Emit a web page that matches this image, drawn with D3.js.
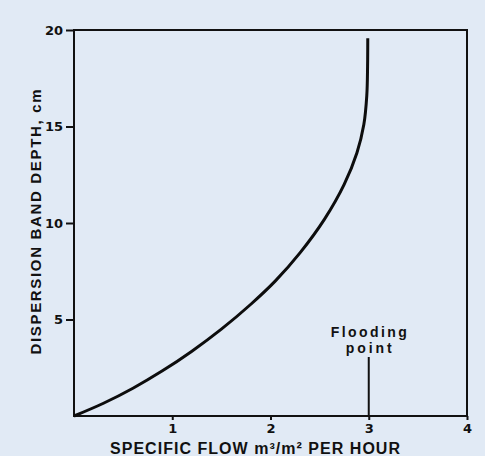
<!DOCTYPE html>
<html>
<head>
<meta charset="utf-8">
<script src="https://cdn.jsdelivr.net/npm/d3@7"></script>
<style>
  html, body { margin: 0; padding: 0; background: #e1eaf5; }
  svg { display: block; }
</style>
</head>
<body>
<div id="chart"></div>
<script>
// specific flow (m3/m2 per hour) vs dispersion band depth (cm)
const flowValues = [0, 0.3, 0.6, 0.9, 1.2, 1.5, 1.8, 2.05, 2.3, 2.55, 2.75, 2.88, 2.95, 2.98, 2.988, 2.99];
const depthValues = [0, 0.66, 1.44, 2.34, 3.36, 4.50, 5.79, 7.0, 8.45, 10.2, 12.0, 13.64, 15.1, 16.6, 18.1, 19.57];
const xTicks = [1, 2, 3, 4];
const yTicks = [5, 10, 15, 20];
const floodFlow = 3;

const width = 485, height = 456;
const margin = { top: 30, right: 18, bottom: 40, left: 74 };
const font = '"Liberation Sans", Arial, sans-serif';
const ink = '#111';

const svg = d3.select('#chart').append('svg')
  .attr('width', width)
  .attr('height', height)
  .style('font-family', font);

svg.append('rect').attr('width', width).attr('height', height).attr('fill', '#e1eaf5');

const x = d3.scaleLinear().domain([0, 4]).range([margin.left, width - margin.right]);
const y = d3.scaleLinear().domain([0, 20]).range([height - margin.bottom, margin.top]);

// frame
svg.append('rect')
  .attr('x', x(0)).attr('y', y(20))
  .attr('width', x(4) - x(0)).attr('height', y(0) - y(20))
  .attr('fill', 'none').attr('stroke', ink).attr('stroke-width', 2);

// axes
const xAxis = svg.append('g')
  .attr('transform', `translate(0,${y(0)})`)
  .call(d3.axisBottom(x).tickValues(xTicks).tickSize(4).tickPadding(4).tickFormat(d3.format('d')));
const yAxis = svg.append('g')
  .attr('transform', `translate(${x(0)},0)`)
  .call(d3.axisLeft(y).tickValues(yTicks).tickSize(8).tickPadding(3).tickFormat(d3.format('d')));

[xAxis, yAxis].forEach(g => {
  g.select('.domain').remove();
  g.selectAll('line').attr('stroke', ink).attr('stroke-width', 2);
  g.selectAll('text')
    .attr('fill', ink)
    .style('font-size', '13px')
    .style('font-weight', 'bold')
    .style('font-family', '"DejaVu Sans", sans-serif');
});
xAxis.selectAll('text').attr('dy', '0.71em');

// curve
const pts = flowValues.map((f, i) => [f, depthValues[i]]);
const line = d3.line()
  .x(d => x(d[0]))
  .y(d => y(d[1]))
  .curve(d3.curveCatmullRom.alpha(0.5));

svg.append('path')
  .datum(pts)
  .attr('d', line)
  .attr('fill', 'none')
  .attr('stroke', '#0d0d0d')
  .attr('stroke-width', 3);

// flooding point marker
svg.append('line')
  .attr('x1', x(floodFlow)).attr('x2', x(floodFlow))
  .attr('y1', y(0)).attr('y2', 357)
  .attr('stroke', ink).attr('stroke-width', 2);

const flood = svg.append('text')
  .attr('text-anchor', 'middle')
  .attr('fill', ink)
  .style('font-size', '14px')
  .style('font-weight', 'bold');
flood.append('tspan').attr('x', x(floodFlow)).attr('y', 337)
  .attr('textLength', 76).attr('lengthAdjust', 'spacing').text('Flooding');
flood.append('tspan').attr('x', x(floodFlow)).attr('y', 353)
  .attr('textLength', 46).attr('lengthAdjust', 'spacing').text('point');

// axis titles
svg.append('text')
  .attr('x', 255).attr('y', 454)
  .attr('text-anchor', 'middle')
  .attr('fill', ink)
  .attr('textLength', 290).attr('lengthAdjust', 'spacing')
  .style('font-size', '16px')
  .style('font-weight', 'bold')
  .text('SPECIFIC FLOW m³/m² PER HOUR');

svg.append('text')
  .attr('transform', 'translate(41,222) rotate(-90)')
  .attr('text-anchor', 'middle')
  .attr('fill', ink)
  .attr('textLength', 265).attr('lengthAdjust', 'spacing')
  .style('font-size', '15px')
  .style('font-weight', 'bold')
  .text('DISPERSION BAND DEPTH, cm');
</script>
</body>
</html>
